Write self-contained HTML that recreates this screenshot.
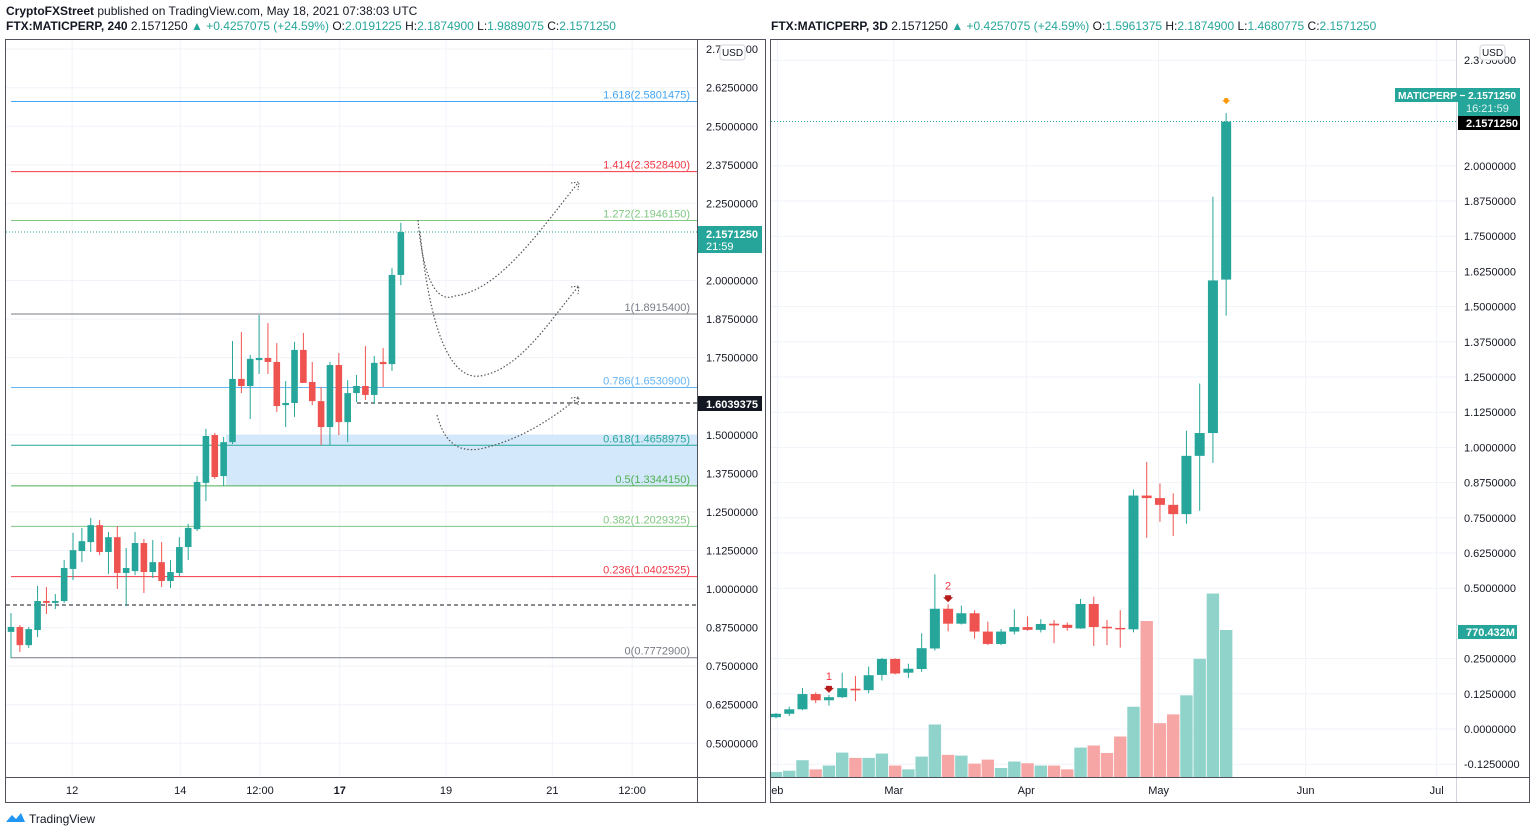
<!DOCTYPE html>
<html><head><meta charset="utf-8">
<style>
body{margin:0;background:#fff;font-family:"Liberation Sans",sans-serif;}
svg{display:block}
text{font-family:"Liberation Sans",sans-serif;}
</style></head>
<body>
<svg id="s" width="1536" height="836" viewBox="0 0 1536 836" xmlns="http://www.w3.org/2000/svg">
<rect x="0" y="0" width="1536" height="836" fill="#fff"/>
<text x="6" y="15" font-size="12" fill="#131722"><tspan font-weight="bold">CryptoFXStreet</tspan> published on TradingView.com, May 18, 2021 07:38:03 UTC</text>
<text x="6" y="30" font-size="12" fill="#131722"><tspan font-weight="bold">FTX:MATICPERP, 240</tspan>  2.1571250 <tspan fill="#26a69a">▲ +0.4257075 (+24.59%)</tspan> O:<tspan fill="#26a69a">2.0191225</tspan> H:<tspan fill="#26a69a">2.1874900</tspan> L:<tspan fill="#26a69a">1.9889075</tspan> C:<tspan fill="#26a69a">2.1571250</tspan></text>
<text x="771" y="30" font-size="12" fill="#131722"><tspan font-weight="bold">FTX:MATICPERP, 3D</tspan>  2.1571250 <tspan fill="#26a69a">▲ +0.4257075 (+24.59%)</tspan> O:<tspan fill="#26a69a">1.5961375</tspan> H:<tspan fill="#26a69a">2.1874900</tspan> L:<tspan fill="#26a69a">1.4680775</tspan> C:<tspan fill="#26a69a">2.1571250</tspan></text>
<g id="L"></g><g id="R"></g>
<rect x="5.5" y="39.5" width="760" height="763" fill="none" stroke="#50535e"/>
<rect x="770.5" y="39.5" width="759" height="763" fill="none" stroke="#50535e"/>
<g>
<path d="M6 822 l6 -7 l4 4 l5 -6 l4 9 z" fill="#2196f3"/>
<text x="29" y="823" font-size="12" fill="#131722">TradingView</text>
</g>
</svg>
<script>
// ---------- LEFT CHART DATA (240 min) ----------
const leftOpen  = [0.861,0.877,0.818,0.867,0.961,0.955,0.961,1.065,1.123,1.152,1.207,1.120,1.168,1.052,1.058,1.149,1.055,1.087,1.026,1.052,1.136,1.194,1.344,1.499,1.366,1.476,1.681,1.658,1.742,1.749,1.736,1.596,1.603,1.775,1.671,1.609,1.525,1.726,1.541,1.635,1.658,1.629,1.736,1.729,2.018];
const leftClose = [0.877,0.818,0.870,0.961,0.955,0.961,1.068,1.126,1.155,1.207,1.120,1.168,1.052,1.068,1.149,1.055,1.087,1.026,1.055,1.136,1.198,1.347,1.496,1.363,1.476,1.681,1.658,1.746,1.749,1.736,1.593,1.603,1.775,1.668,1.609,1.525,1.726,1.541,1.635,1.658,1.629,1.733,1.729,2.018,2.157];
const leftHigh  = [0.922,0.883,0.877,1.010,1.006,0.984,1.094,1.182,1.198,1.230,1.224,1.185,1.204,1.133,1.185,1.162,1.159,1.152,1.094,1.168,1.211,1.366,1.519,1.506,1.493,1.804,1.833,1.759,1.888,1.862,1.797,1.674,1.801,1.830,1.736,1.655,1.736,1.765,1.677,1.694,1.788,1.755,1.781,2.040,2.187];
const leftLow   = [0.776,0.796,0.809,0.844,0.919,0.935,0.955,1.029,1.087,1.120,1.110,1.049,1.000,0.945,1.045,0.987,1.036,1.006,1.003,1.042,1.094,1.188,1.285,1.357,1.334,1.470,1.635,1.551,1.697,1.697,1.574,1.525,1.558,1.668,1.596,1.467,1.467,1.499,1.476,1.606,1.613,1.600,1.655,1.707,1.985];
const leftTicks = [2.75,2.625,2.5,2.375,2.25,2.0,1.875,1.75,1.5,1.375,1.25,1.125,1.0,0.875,0.75,0.625,0.5];
const leftTimeLabels = ["12","14","12:00","17","19","21","12:00"];
const leftTimeIdx = [6.9,19.1,28.1,37.1,49.1,61.1,70.1];
const fibRatios = ["1.618","1.414","1.272","1","0.786","0.618","0.5","0.382","0.236","0"];
const fibPrices = [2.5801475,2.35284,2.194615,1.89154,1.65309,1.4658975,1.334415,1.2029325,1.0402525,0.77729];
const fibColors = ["#42a5f5","#f23645","#81c784","#787b86","#64b5f6","#26a69a","#4caf50","#81c784","#f23645","#787b86"];

// ---------- RIGHT CHART DATA (3D) ----------
const rightOpen  = [0.042,0.054,0.070,0.124,0.102,0.113,0.143,0.138,0.192,0.249,0.200,0.213,0.286,0.427,0.374,0.411,0.346,0.302,0.346,0.362,0.352,0.374,0.370,0.357,0.444,0.363,0.359,0.354,0.829,0.820,0.796,0.763,0.970,1.051,1.596];
const rightClose = [0.054,0.070,0.124,0.102,0.113,0.145,0.137,0.191,0.249,0.197,0.214,0.287,0.427,0.374,0.411,0.346,0.302,0.346,0.362,0.352,0.373,0.368,0.359,0.444,0.362,0.359,0.354,0.829,0.820,0.796,0.763,0.970,1.051,1.593,2.157];
const rightHigh  = [0.057,0.079,0.146,0.130,0.121,0.200,0.188,0.222,0.252,0.251,0.232,0.340,0.549,0.443,0.438,0.422,0.381,0.355,0.425,0.400,0.390,0.387,0.378,0.462,0.470,0.387,0.422,0.850,0.948,0.872,0.837,1.059,1.227,1.890,2.187];
const rightLow   = [0.038,0.046,0.067,0.092,0.083,0.110,0.099,0.127,0.172,0.194,0.181,0.203,0.279,0.347,0.371,0.321,0.298,0.298,0.336,0.349,0.343,0.305,0.349,0.356,0.295,0.298,0.289,0.343,0.679,0.736,0.685,0.729,0.775,0.945,1.468];
const rightVolume = [26,33,88,40,60,128,100,100,123,60,40,107,275,116,112,70,91,47,81,72,60,60,40,154,165,126,212,368,817,282,328,428,619,961,770];
const rightTicks = [2.375,2.0,1.875,1.75,1.625,1.5,1.375,1.25,1.125,1.0,0.875,0.75,0.625,0.5,0.25,0.125,0,-0.125];
const rightTimeLabels = ["eb","Mar","Apr","May","Jun","Jul"];
const rightTimeIdx = [0.1,8.9,18.9,28.9,40.0,49.9];

const NS="http://www.w3.org/2000/svg";
function mk(parent,tag,attrs){const e=document.createElementNS(NS,tag);for(const k in attrs)e.setAttribute(k,attrs[k]);parent.appendChild(e);return e;}
const UP="#26a69a", DN="#ef5350";

// ---------- LEFT ----------
const L=document.getElementById('L');
const ly=p=>589-(p-1)*308.5;
const lx=i=>11+i*8.86;
const LAX=697;
leftTicks.forEach(t=>{
  const g=mk(L,'line',{x1:6,x2:LAX,y1:ly(t),y2:ly(t),stroke:'#f0f3fa'});
  
  
});
leftTimeIdx.forEach(i=>{
  const g=mk(L,'line',{x1:lx(i),x2:lx(i),y1:40,y2:777,stroke:'#f0f3fa'});
  
  
});
const zone=mk(L,'rect',{x:226,y:ly(1.5),width:LAX-226,height:ly(1.334415)-ly(1.5),fill:'#cfe5fb',opacity:0.9});


fibPrices.forEach((p,k)=>{
  const ln=mk(L,'line',{x1:11,x2:LAX,y1:ly(p),y2:ly(p),stroke:fibColors[k],'stroke-width':1});
  
  
  const tx=mk(L,'text',{x:690,y:ly(p)-3,'font-size':11,'text-anchor':'end',fill:fibColors[k]});
  tx.textContent=fibRatios[k]+'('+p.toFixed(7)+')';
  
  
});
let d1=mk(L,'line',{x1:357,x2:LAX,y1:403,y2:403,stroke:'#131722','stroke-dasharray':'4 3'});


let d2=mk(L,'line',{x1:6,x2:LAX,y1:605,y2:605,stroke:'#131722','stroke-dasharray':'4 3'});


let pl=mk(L,'line',{x1:6,x2:LAX,y1:ly(2.157125),y2:ly(2.157125),stroke:'#26a69a','stroke-dasharray':'1 2'});


leftOpen.forEach((o,i)=>{
  const c=leftClose[i],col=c>=o?UP:DN,x=lx(i);
  const w=mk(L,'line',{x1:x,x2:x,y1:ly(leftHigh[i]),y2:ly(leftLow[i]),stroke:col,'stroke-width':1});
  
  
  const top=ly(Math.max(o,c)),h=Math.max(1.5,Math.abs(ly(o)-ly(c)));
  const b=mk(L,'rect',{x:x-3.3,y:top,width:6.6,height:h,fill:col});
  
  
});
[["M418 220 C425 300 445 300 455 296 C500 290 540 230 578 183","path-1"],
 ["M420 232 C430 330 450 380 480 376 C520 370 550 320 578 287","path-2"],
 ["M437 415 C445 445 460 452 480 449 C520 440 550 420 578 398","path-3"]].forEach(a=>{
  const p=mk(L,'path',{d:a[0],fill:'none',stroke:'#555','stroke-dasharray':'1.5 2','stroke-width':1.2});
  
  
});
[[578,183],[578,287],[578,398]].forEach(a=>{
  const h=mk(L,'path',{d:`M${a[0]-7} ${a[1]+0} L${a[0]+1} ${a[1]-1} L${a[0]} ${a[1]+7}`,fill:'none',stroke:'#555','stroke-dasharray':'1.5 1.5'});
  
  
});
let ax=mk(L,'line',{x1:LAX+0.5,x2:LAX+0.5,y1:40,y2:802,stroke:'#50535e'});


let tx0=mk(L,'line',{x1:6,x2:765,y1:777.5,y2:777.5,stroke:'#50535e'});


leftTicks.forEach(t=>{
  const e=mk(L,'text',{x:706,y:ly(t)+4,'font-size':11,fill:'#131722'});
  e.textContent=t.toFixed(7);
  
  
});
leftTimeLabels.forEach((t,k)=>{
  const e=mk(L,'text',{x:lx(leftTimeIdx[k]),y:794,'font-size':11,'text-anchor':'middle',fill:'#131722','font-weight':t==='17'?'bold':'normal'});
  e.textContent=t;
  
  
});
let usd=mk(L,'rect',{x:720,y:45,width:25,height:15,rx:3,fill:'#fff',stroke:'#d1d4dc'});


let ut=mk(L,'text',{x:732.5,y:56,'font-size':10,'text-anchor':'middle',fill:'#131722'});ut.textContent='USD';


let lb=mk(L,'rect',{x:698,y:226,width:64,height:27,fill:'#26a69a'});


let lt1=mk(L,'text',{x:706,y:238,'font-size':11,fill:'#fff','font-weight':'bold'});lt1.textContent='2.1571250';


let lt2=mk(L,'text',{x:706,y:250,'font-size':11,fill:'#fff'});lt2.textContent='21:59';


let bb=mk(L,'rect',{x:698,y:396,width:64,height:15,fill:'#131722'});


let bt=mk(L,'text',{x:706,y:408,'font-size':11,fill:'#fff','font-weight':'bold'});bt.textContent='1.6039375';



// ---------- RIGHT ----------
const R=document.getElementById('R');
const ry=p=>729-p*281.6;
const rx=i=>776+i*13.24;
const RAX=1456, VB=777, vScale=147/770;
rightTicks.forEach(t=>{
  const g=mk(R,'line',{x1:771,x2:RAX,y1:ry(t),y2:ry(t),stroke:'#f0f3fa'});
  
  
});
rightTimeIdx.forEach(i=>{
  const g=mk(R,'line',{x1:rx(i),x2:rx(i),y1:40,y2:777,stroke:'#f0f3fa'});
  
  
});
rightVolume.forEach((v,i)=>{
  const col=rightClose[i]>=rightOpen[i]?'#8fd3cb':'#f5a6a5';
  const h=v*vScale;
  const b=mk(R,'rect',{x:rx(i)-6.2,y:VB-h,width:12.4,height:h,fill:col});
  
  
});
let rpl=mk(R,'line',{x1:771,x2:RAX,y1:ry(2.157125),y2:ry(2.157125),stroke:'#26a69a','stroke-dasharray':'1 2'});


rightOpen.forEach((o,i)=>{
  const c=rightClose[i],col=c>=o?UP:DN,x=rx(i);
  const w=mk(R,'line',{x1:x,x2:x,y1:ry(rightHigh[i]),y2:ry(rightLow[i]),stroke:col});
  
  
  const top=ry(Math.max(o,c)),h=Math.max(1.5,Math.abs(ry(o)-ry(c)));
  const b=mk(R,'rect',{x:x-5,y:top,width:10,height:h,fill:col});
  
  
});
[[4,"1"],[13,"2"]].forEach(m=>{
  const x=rx(m[0]),y=ry(rightHigh[m[0]]);
  const t=mk(R,'text',{x:x,y:y-15,'font-size':11,'text-anchor':'middle',fill:'#f23645'});t.textContent=m[1];
  
  
  const a=mk(R,'path',{d:`M${x-3} ${y-9} h6 v2 h2 l-5 5 l-5 -5 h2 z`,fill:'#b71c1c'});
  
  
});
{const x=rx(34),y=ry(rightHigh[34]);
 const a=mk(R,'path',{d:`M${x-2} ${y-15} h4 v2 h2 l-4 4 l-4 -4 h2 z`,fill:'#ff9800'});
 
 }
let rax=mk(R,'line',{x1:RAX+0.5,x2:RAX+0.5,y1:40,y2:802,stroke:'#d1d4dc'});


let rtx=mk(R,'line',{x1:771,x2:1530,y1:777.5,y2:777.5,stroke:'#50535e'});


rightTicks.forEach(t=>{
  const e=mk(R,'text',{x:1464,y:ry(t)+4,'font-size':11,fill:'#131722'});
  e.textContent=t.toFixed(7);
  
  
});
rightTimeLabels.forEach((t,k)=>{
  const e=mk(R,'text',{x:rx(rightTimeIdx[k]),y:794,'font-size':11,'text-anchor':'middle',fill:'#131722'});
  e.textContent=t;
  
  
});
let rusd=mk(R,'rect',{x:1480,y:45,width:25,height:15,rx:3,fill:'#fff',stroke:'#d1d4dc'});


let rut=mk(R,'text',{x:1492.5,y:56,'font-size':10,'text-anchor':'middle',fill:'#131722'});rut.textContent='USD';


let sb=mk(R,'rect',{x:1395,y:88,width:125,height:14,fill:'#26a69a'});


let sb2=mk(R,'rect',{x:1458,y:102,width:62,height:14,fill:'#26a69a'});


let st=mk(R,'text',{x:1398,y:99,'font-size':10.5,fill:'#fff','font-weight':'bold',textLength:118,lengthAdjust:'spacingAndGlyphs'});st.textContent='MATICPERP  −  2.1571250';


let st2=mk(R,'text',{x:1466,y:112,'font-size':11,fill:'#d8f3ef'});st2.textContent='16:21:59';


let kb=mk(R,'rect',{x:1458,y:116,width:62,height:14,fill:'#000'});


let kt=mk(R,'text',{x:1466,y:127,'font-size':11,fill:'#fff','font-weight':'bold'});kt.textContent='2.1571250';


let vb=mk(R,'rect',{x:1458,y:625,width:59,height:14,fill:'#26a69a'});


let vt=mk(R,'text',{x:1466,y:636,'font-size':11,fill:'#fff','font-weight':'bold'});vt.textContent='770.432M';


</script>
</body></html>
